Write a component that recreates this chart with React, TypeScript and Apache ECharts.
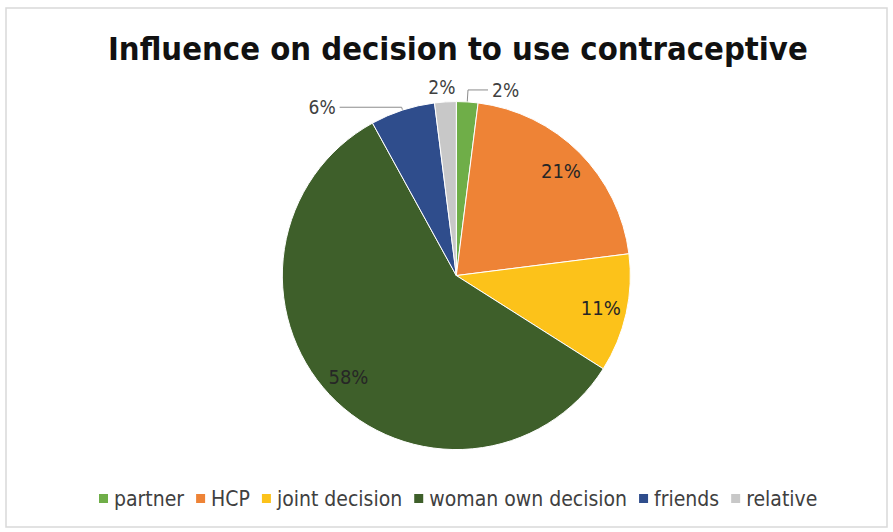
import React, { useEffect, useRef } from "react";
import * as echarts from "echarts";

const categories = ["partner", "HCP", "joint decision", "woman own decision", "friends", "relative"];
const values = [2, 21, 11, 58, 6, 2];
const colors = ["#6fae48", "#ee8336", "#fcc21a", "#3e5f2a", "#2f4d8c", "#c8c8c8"];
const insideLabel = [false, true, true, true, false, false];
const titleText = "Influence on decision to use contraceptive";

const FONT = "'Liberation Sans Narrow', 'DejaVu Sans Condensed', 'Liberation Sans', sans-serif";

export default function App() {
  const ref = useRef<HTMLDivElement>(null);
  useEffect(() => {
    if (!ref.current) return;
    const chart = echarts.init(ref.current, null, { renderer: "svg" });
    const lineCfg: Record<string, any> = {
      partner: { length: 12, length2: 20 },
      friends: { length: 3, length2: 62 },
      relative: { length: 15, length2: 0 },
    };
    const mainData = categories.map((name, i) => ({
      name,
      value: values[i],
      itemStyle: { color: colors[i] },
      label: { show: !insideLabel[i] },
      labelLine: { show: !insideLabel[i] && name !== "relative", ...(lineCfg[name] || {}) },
    }));
    const overlayData = categories.map((name, i) => ({
      name,
      value: values[i],
      label: { show: insideLabel[i] },
    }));
    chart.setOption({
      animation: false,
      backgroundColor: "#ffffff",
      title: {
        text: titleText,
        left: 103,
        top: 27,
        textStyle: { fontFamily: FONT, fontSize: 32.5, fontWeight: "bold", color: "#111111" },
      },
      legend: {
        data: categories,
        left: 92,
        top: 483,
        icon: "rect",
        itemWidth: 11,
        itemHeight: 11,
        itemGap: 10,
        textStyle: { fontFamily: FONT, fontSize: 21, color: "#404040" },
      },
      graphic: [
        {
          type: "rect",
          shape: { x: 6, y: 8, width: 881, height: 519 },
          style: { fill: "none", stroke: "#d9d9d9", lineWidth: 1.5 },
          silent: true,
        },
      ],
      series: [
        {
          type: "pie",
          center: ["51.1%", "51.8%"],
          radius: [0, 174],
          startAngle: 90,
          clockwise: true,
          avoidLabelOverlap: false,
          itemStyle: { borderColor: "#ffffff", borderWidth: 1 },
          label: {
            position: "outside",
            formatter: "{c}%",
            fontFamily: FONT,
            fontSize: 19,
            color: "#404040",
            distanceToLabelLine: 4,
          },
          labelLine: { lineStyle: { color: "#8c8c8c", width: 1 } },
          labelLayout: (params: any) => (params.dataIndex === 5 ? { dx: 15 } : {}),
          data: mainData,
        },
        {
          type: "pie",
          center: ["51.1%", "51.8%"],
          radius: [0, 290],
          startAngle: 90,
          clockwise: true,
          silent: true,
          legendHoverLink: false,
          itemStyle: { color: "transparent", borderWidth: 0 },
          label: {
            position: "inside",
            formatter: "{c}%",
            fontFamily: FONT,
            fontSize: 20,
            color: "#262626",
          },
          labelLine: { show: false },
          data: overlayData,
        },
      ],
    });
    return () => chart.dispose();
  }, []);
  return (
    <div
      ref={ref}
      style={{ position: "absolute", left: 0, top: 0, width: 893, height: 532 }}
    />
  );
}
